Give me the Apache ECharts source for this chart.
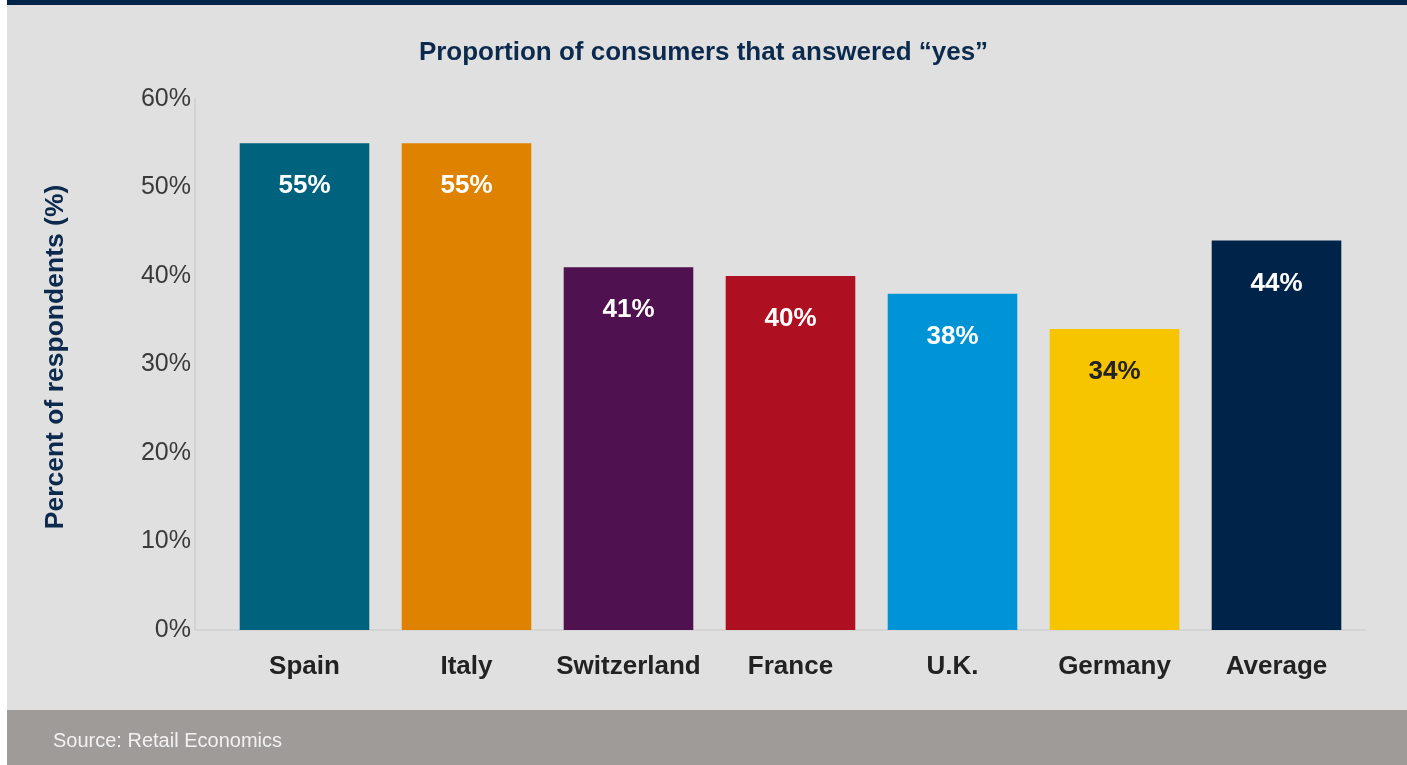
<!DOCTYPE html>
<html>
<head>
<meta charset="utf-8">
<script src="https://cdn.jsdelivr.net/npm/echarts@6/dist/echarts.min.js"></script>
<style>
  html, body { margin: 0; padding: 0; background: #ffffff; }
  #chart { width: 1407px; height: 765px; }
</style>
</head>
<body>
<div id="chart"></div>
<script>
// Survey results by country
const categories = ['Spain', 'Italy', 'Switzerland', 'France', 'U.K.', 'Germany', 'Average'];
const values = [55, 55, 41, 40, 38, 34, 44];
const barColors = ['#00627d', '#df8200', '#4f1150', '#ae1022', '#0093d6', '#f7c400', '#00234a'];
const labelColors = ['#ffffff', '#ffffff', '#ffffff', '#ffffff', '#ffffff', '#222222', '#ffffff'];
const yTicks = [0, 10, 20, 30, 40, 50, 60];

const FONT = '"Liberation Sans", Arial, Helvetica, sans-serif';
const chart = echarts.init(document.getElementById('chart'), null, { renderer: 'canvas' });

const option = {
  backgroundColor: '#ffffff',
  animation: false,
  textStyle: { fontFamily: FONT },
  title: {
    text: 'Proportion of consumers that answered \u201cyes\u201d',
    left: 'center',
    top: 35,
    textStyle: { fontFamily: FONT, fontSize: 26, fontWeight: 'bold', color: '#0b2a4d' }
  },
  graphic: [
    { type: 'rect', z: -10, shape: { x: 7, y: 0, width: 1400, height: 765 }, style: { fill: '#e0e0e0' }, silent: true },
    { type: 'rect', z: -9, shape: { x: 7, y: 0, width: 1400, height: 5 }, style: { fill: '#00234a' }, silent: true },
    { type: 'rect', z: -9, shape: { x: 7, y: 710, width: 1400, height: 55 }, style: { fill: '#9f9b99' }, silent: true },
    {
      type: 'text', z: 5, left: 53, top: 731,
      style: { text: 'Source: Retail Economics', fill: '#f2f2f2', font: '20px ' + FONT }
    }
  ],
  grid: [
    // bars
    { left: 223.5, right: 49.5, top: 99, bottom: 135 },
    // axis frame
    { left: 195, right: 42, top: 99, bottom: 135 }
  ],
  xAxis: [
    {
      type: 'category',
      gridIndex: 0,
      data: categories,
      axisLine: { show: false },
      axisTick: { show: false },
      axisLabel: {
        interval: 0,
        margin: 24,
        fontFamily: FONT,
        fontSize: 26,
        fontWeight: 'bold',
        color: '#222222'
      }
    },
    {
      type: 'value',
      gridIndex: 1,
      min: 0,
      max: 1,
      axisLine: { show: true, onZero: false, lineStyle: { color: '#cfcfcf', width: 1.5 } },
      axisTick: { show: false },
      axisLabel: { show: false },
      splitLine: { show: false }
    }
  ],
  yAxis: [
    {
      type: 'value',
      gridIndex: 0,
      min: 0,
      max: 60,
      interval: 10,
      show: false
    },
    {
      type: 'value',
      gridIndex: 1,
      min: yTicks[0],
      max: yTicks[yTicks.length - 1],
      interval: 10,
      name: 'Percent of respondents (%)',
      nameLocation: 'middle',
      nameRotate: 90,
      nameGap: 126,
      nameTextStyle: {
        fontFamily: FONT,
        fontSize: 26.5,
        fontWeight: 'bold',
        color: '#0b2a4d',
        padding: [0, 0, 0, 15]
      },
      axisLine: { show: true, lineStyle: { color: '#cfcfcf', width: 1.5 } },
      axisTick: { show: false },
      splitLine: { show: false },
      axisLabel: {
        margin: 4,
        fontFamily: FONT,
        fontSize: 25,
        color: '#3a3a3a',
        padding: [4, 0, 0, 0],
        formatter: '{value}%'
      }
    }
  ],
  series: [
    {
      type: 'bar',
      xAxisIndex: 0,
      yAxisIndex: 0,
      barCategoryGap: '20%',
      data: values.map((v, i) => ({
        value: v,
        itemStyle: { color: barColors[i] },
        label: { color: labelColors[i] }
      })),
      label: {
        show: true,
        position: 'insideTop',
        distance: 30,
        fontFamily: FONT,
        fontSize: 26,
        fontWeight: 'bold',
        formatter: '{c}%'
      }
    }
  ]
};

chart.setOption(option);
</script>
</body>
</html>
